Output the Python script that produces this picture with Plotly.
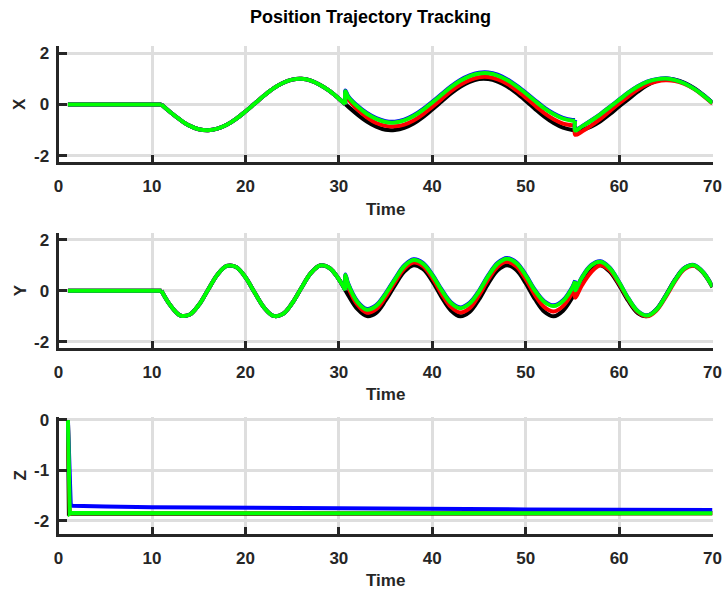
import plotly.graph_objects as go

# ---------------- data ----------------
# time grid for the X / Y channels (repeated instants mark a jump)
t_xy = [1, 11, 11, 12, 13, 14, 15, 16, 17, 18, 19, 20, 21, 22, 23, 24, 25, 26, 27, 28, 29, 30,
        30.7, 30.7, 31, 32, 33, 34, 35, 36, 37, 38, 39, 40, 41, 42, 43, 44, 45, 46, 47, 48, 49,
        50, 51, 52, 53, 54, 55, 55.3, 55.3, 56, 57, 58, 59, 60, 61, 62, 63, 64, 65, 66, 67, 68,
        69, 70]

# X channel: all four curves coincide up to t = 30
x_common = [0, 0, 0, -0.31, -0.59, -0.82, -0.96, -1.00, -0.94, -0.79, -0.56, -0.27, 0.04, 0.35,
            0.63, 0.84, 0.97, 1.00, 0.93, 0.76, 0.53, 0.23]
x_ref_tail = [0.01, 0.01,
              -0.08, -0.39, -0.66, -0.86, -0.98, -0.99, -0.91, -0.74, -0.49, -0.19, 0.12, 0.43,
              0.69, 0.88, 0.99, 0.99, 0.89, 0.71, 0.45, 0.15, -0.17, -0.47, -0.72, -0.90, -0.99,
              -1.00, -1.00,
              -0.98, -0.86, -0.65, -0.38, -0.07, 0.21, 0.50, 0.75, 0.92, 1.00, 0.97, 0.85, 0.65,
              0.38, 0.07]
x_red_tail = [0.01, 0.45,
              0.22, -0.20, -0.50, -0.72, -0.83, -0.85, -0.78, -0.62, -0.38, -0.09, 0.21, 0.52,
              0.77, 0.95, 1.06, 1.07, 0.98, 0.81, 0.56, 0.27, -0.04, -0.33, -0.57, -0.74, -0.81,
              -0.82, -1.18,
              -1.06, -0.82, -0.56, -0.26, 0.04, 0.32, 0.58, 0.78, 0.90, 0.95, 0.92, 0.80, 0.61,
              0.35, 0.04]
x_blue_tail = [0.01, 0.55,
               0.33, -0.05, -0.33, -0.53, -0.65, -0.67, -0.59, -0.42, -0.18, 0.11, 0.41, 0.71,
               0.96, 1.14, 1.24, 1.25, 1.16, 0.99, 0.75, 0.47, 0.17, -0.12, -0.35, -0.52, -0.60,
               -0.60, -0.99,
               -0.85, -0.62, -0.37, -0.09, 0.19, 0.47, 0.71, 0.89, 0.99, 1.02, 0.96, 0.83, 0.63,
               0.37, 0.07]
x_green_tail = [0.01, 0.52,
                0.30, -0.08, -0.36, -0.56, -0.68, -0.70, -0.62, -0.45, -0.21, 0.08, 0.38, 0.68,
                0.93, 1.11, 1.21, 1.22, 1.13, 0.96, 0.72, 0.44, 0.14, -0.15, -0.38, -0.55, -0.63,
                -0.63, -1.01,
                -0.86, -0.63, -0.38, -0.10, 0.18, 0.46, 0.70, 0.88, 0.98, 1.01, 0.95, 0.82, 0.62,
                0.36, 0.06]

# Y channel
y_common = [0, 0, 0, -0.59, -0.96, -0.94, -0.56, 0.04, 0.63, 0.97, 0.93, 0.53, -0.08, -0.66,
            -0.98, -0.91, -0.49, 0.12, 0.69, 0.99, 0.89, 0.45]
y_ref_tail = [0.02, 0.02,
              -0.17, -0.72, -0.99, -0.86, -0.38, 0.21, 0.75, 1.00, 0.85, 0.38, -0.25, -0.77,
              -1.00, -0.83, -0.34, 0.29, 0.80, 1.00, 0.81, 0.30, -0.33, -0.82, -1.00, -0.78, -0.26,
              -0.07, -0.07,
              0.37, 0.85, 1.00, 0.75, 0.22, -0.40, -0.87, -0.99, -0.73, -0.18, 0.44, 0.89, 0.99,
              0.70, 0.14]
y_red_tail = [0.02, 0.55,
              0.15, -0.55, -0.86, -0.72, -0.25, 0.33, 0.86, 1.10, 0.96, 0.50, -0.12, -0.63,
              -0.85, -0.68, -0.18, 0.44, 0.94, 1.13, 0.95, 0.45, -0.17, -0.64, -0.81, -0.60, -0.08,
              0.15, -0.27,
              0.20, 0.72, 1.00, 0.80, 0.28, -0.34, -0.83, -1.00, -0.77, -0.24, 0.38, 0.85, 0.98,
              0.72, 0.16]
y_blue_tail = [0.02, 0.64,
               0.28, -0.42, -0.71, -0.56, -0.10, 0.47, 0.99, 1.23, 1.09, 0.64, 0.05, -0.45,
               -0.65, -0.47, 0.00, 0.61, 1.09, 1.28, 1.11, 0.63, 0.03, -0.41, -0.57, -0.37, 0.15,
               0.40, 0.04,
               0.52, 1.00, 1.15, 0.90, 0.34, -0.30, -0.79, -0.96, -0.73, -0.19, 0.43, 0.89, 1.01,
               0.73, 0.16]
y_green_tail = [0.02, 0.62,
                0.25, -0.45, -0.74, -0.59, -0.13, 0.44, 0.96, 1.20, 1.06, 0.61, 0.02, -0.48,
                -0.68, -0.50, -0.03, 0.58, 1.06, 1.25, 1.08, 0.60, 0.00, -0.44, -0.60, -0.40, 0.12,
                0.37, 0.02,
                0.50, 0.98, 1.13, 0.88, 0.33, -0.31, -0.80, -0.97, -0.74, -0.20, 0.42, 0.88, 1.00,
                0.72, 0.15]

# Z channel
t_z = [1.0, 1.03, 1.05, 1.1, 1.15, 1.2, 1.3, 1.5, 2, 5, 10, 20, 30, 40, 50, 60, 70]
z_ref = [0, -1.86, -1.86, -1.86, -1.86, -1.86, -1.86, -1.86, -1.86, -1.855, -1.85, -1.85,
         -1.85, -1.85, -1.85, -1.85, -1.85]
z_red = [0, -0.25, -0.42, -0.90, -1.35, -1.86, -1.855, -1.85, -1.85, -1.845, -1.845, -1.845,
         -1.845, -1.85, -1.85, -1.85, -1.85]
z_blue = [0, -0.25, -0.42, -0.90, -1.30, -1.62, -1.68, -1.70, -1.705, -1.715, -1.73, -1.745,
          -1.755, -1.765, -1.772, -1.778, -1.785]
z_green = [0, -0.22, -0.40, -0.88, -1.35, -1.86, -1.85, -1.845, -1.845, -1.84, -1.84, -1.84,
           -1.84, -1.845, -1.845, -1.85, -1.85]

x_tick_vals = [0, 10, 20, 30, 40, 50, 60, 70]
x_tick_text = ["0", "10", "20", "30", "40", "50", "60", "70"]
xy_tick_vals = [-2, 0, 2]
xy_tick_text = ["-2", "0", "2"]
z_tick_vals = [-2, -1, 0]
z_tick_text = ["-2", "-1", "0"]

title_text = "Position Trajectory Tracking"
x_label = "Time"
channel_labels = ["X", "Y", "Z"]

# ---------------- styling ----------------
FONT = "Liberation Sans, Arial, sans-serif"
AXIS_COLOR = "#262626"
GRID_COLOR = "#dedede"
W, H = 725, 592
LABEL_SIZE = 17

series_style = [  # (name, colour, width) in drawing order
    ("ref", "#000000", 4.0),
    ("red", "#ff0000", 4.0),
    ("blue", "#0000ff", 4.0),
    ("green", "#00ff00", 4.0),
]


def split_at_jumps(t, v):
    """Split a curve at repeated instants so each smooth piece is drawn on its own."""
    pieces = []
    ct, cv = [t[0]], [v[0]]
    for i in range(1, len(t)):
        if t[i] == t[i - 1]:
            pieces.append((ct, cv))
            if v[i] != v[i - 1]:
                ct, cv = [t[i - 1], t[i]], [v[i - 1], v[i]]
            else:
                ct, cv = [t[i]], [v[i]]
        else:
            ct.append(t[i])
            cv.append(v[i])
    pieces.append((ct, cv))
    return pieces


fig = go.Figure()

x_series = {
    "ref": x_common + x_ref_tail,
    "red": x_common + x_red_tail,
    "blue": x_common + x_blue_tail,
    "green": x_common + x_green_tail,
}
y_series = {
    "ref": y_common + y_ref_tail,
    "red": y_common + y_red_tail,
    "blue": y_common + y_blue_tail,
    "green": y_common + y_green_tail,
}
z_series = {"ref": z_ref, "red": z_red, "blue": z_blue, "green": z_green}

for row, series in ((1, x_series), (2, y_series)):
    xa = "x" if row == 1 else f"x{row}"
    ya = "y" if row == 1 else f"y{row}"
    for name, colour, width in series_style:
        for pt, pv in split_at_jumps(t_xy, series[name]):
            fig.add_trace(go.Scatter(
                x=pt, y=pv, xaxis=xa, yaxis=ya, mode="lines",
                line=dict(color=colour, width=width, shape="spline", smoothing=1.0),
                showlegend=False, hoverinfo="skip"))

for name, colour, width in series_style:
    fig.add_trace(go.Scatter(
        x=t_z, y=z_series[name], xaxis="x3", yaxis="y3", mode="lines",
        line=dict(color=colour, width=width), showlegend=False, hoverinfo="skip"))

tick_font = dict(family=FONT, size=LABEL_SIZE, color=AXIS_COLOR, weight="bold")

# pixel boxes of the three panels: (top, bottom)
panels = [(46, 161.8), (232.7, 347.8), (417.3, 533.5)]
x_left, x_right = 58.6, 712.5
x_dom = [x_left / W, x_right / W]
y_ranges = [[-2.23, 2.28], [-2.23, 2.27], [-2.25, 0.053]]
y_ticks = [(xy_tick_vals, xy_tick_text), (xy_tick_vals, xy_tick_text), (z_tick_vals, z_tick_text)]

layout = dict(
    template="none",
    width=W, height=H,
    margin=dict(l=0, r=0, t=0, b=0, pad=0, autoexpand=False),
    paper_bgcolor="white", plot_bgcolor="white",
    title=dict(text=title_text, x=370.5 / W, xanchor="center",
               y=1 - 17 / H, yanchor="middle", yref="container", automargin=False,
               font=dict(family=FONT, size=18, color="#000000", weight="bold")),
    annotations=[],
)

for i, (top, bottom) in enumerate(panels):
    sfx = "" if i == 0 else str(i + 1)
    layout["xaxis" + sfx] = dict(
        domain=x_dom, anchor="y" + sfx, range=[0, 70],
        tickmode="array", tickvals=x_tick_vals, ticktext=x_tick_text,
        ticks="inside", ticklen=7, tickwidth=3, tickcolor=AXIS_COLOR,
        showline=True, linewidth=3, linecolor=AXIS_COLOR, mirror=False,
        showgrid=True, gridcolor=GRID_COLOR, gridwidth=3, zeroline=False,
        tickfont=tick_font, ticklabelstandoff=7, automargin=False, fixedrange=True)
    layout["yaxis" + sfx] = dict(
        domain=[1 - bottom / H, 1 - top / H], anchor="x" + sfx, range=y_ranges[i],
        tickmode="array", tickvals=y_ticks[i][0], ticktext=y_ticks[i][1],
        ticks="inside", ticklen=8, tickwidth=3, tickcolor=AXIS_COLOR,
        showline=True, linewidth=3, linecolor=AXIS_COLOR, mirror=False,
        showgrid=True, gridcolor=GRID_COLOR, gridwidth=3, zeroline=False,
        tickfont=tick_font, ticklabelstandoff=3, automargin=False, fixedrange=True)
    # axis titles
    layout["annotations"].append(dict(
        text=x_label, x=(x_left + x_right) / 2 / W, y=1 - [209, 394, 580][i] / H,
        xref="paper", yref="paper", xanchor="center", yanchor="middle", showarrow=False,
        font=dict(family=FONT, size=LABEL_SIZE, color=AXIS_COLOR, weight="bold")))
    layout["annotations"].append(dict(
        text=channel_labels[i], x=20 / W, y=1 - (top + bottom) / 2 / H, textangle=-90,
        xref="paper", yref="paper", xanchor="center", yanchor="middle", showarrow=False,
        font=dict(family=FONT, size=LABEL_SIZE, color=AXIS_COLOR, weight="bold")))

fig.update_layout(**layout)
fig.write_html("out.html")
